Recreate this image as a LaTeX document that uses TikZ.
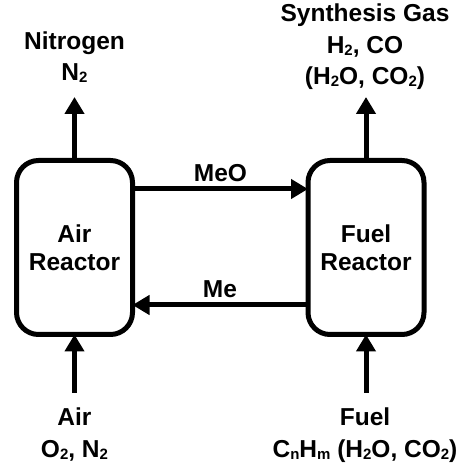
\documentclass[tikz,border=0pt]{standalone}
\usepackage{fontspec}
\setmainfont{Liberation Sans}
\usetikzlibrary{arrows.meta}
\newcommand\sbs[1]{\raisebox{-0.08em}{\fontsize{15}{15}\selectfont #1}}
\begin{document}
\begin{tikzpicture}[x=1pt,y=1pt,
  reactor/.style={draw,line width=5pt,rounded corners=22pt,minimum width=116pt,minimum height=174pt,
    inner sep=0pt,outer sep=0pt,align=center,font=\bfseries\fontsize{24.5}{28.5}\selectfont},
  lbl/.style={anchor=base,align=center,inner sep=0pt,font=\bfseries\fontsize{24.5}{31.5}\selectfont},
  flow/.style={line width=5pt,-{Triangle[length=17pt,width=19pt]}}]
\useasboundingbox (0,0) rectangle (460,463);
\node[reactor] (air) at (74.5,215.5) {Air\\Reactor};
\node[reactor] (fuel) at (366,215.5) {Fuel\\Reactor};
% outputs / inputs
\coordinate (airtop) at (74.5,366);
\coordinate (fueltop) at (366,366);
\coordinate (airbot) at (74.5,70);
\coordinate (fuelbot) at (366,70);
\draw[flow] (air.north) -- (airtop);
\draw[flow] (fuel.north) -- (fueltop);
\draw[flow] (airbot) -- (air.south);
\draw[flow] (fuelbot) -- (fuel.south);
% solids circulation
\coordinate (meoy) at (0,274);
\coordinate (mey) at (0,158);
\draw[flow] (air.east |- meoy) -- (fuel.west |- meoy);
\draw[flow] (fuel.west |- mey) -- (air.east |- mey);
\node[lbl] (meo) at (220.5,281) {MeO};
\node[lbl] (me) at (220,165) {Me};
% texts
\node[lbl] (nitro) at (74.5,382) {Nitrogen\\N\sbs{2}};
\node[lbl] (syn) at (365,378) {Synthesis Gas\\H\sbs{2}, CO\\(H\sbs{2}O, CO\sbs{2})};
\node[lbl] (airin) at (74.5,5.5) {Air\\O\sbs{2}, N\sbs{2}};
\node[lbl] (fuelin) at (365,5.5) {Fuel\\C\sbs{n}H\sbs{m} (H\sbs{2}O, CO\sbs{2})};
\end{tikzpicture}
\end{document}
